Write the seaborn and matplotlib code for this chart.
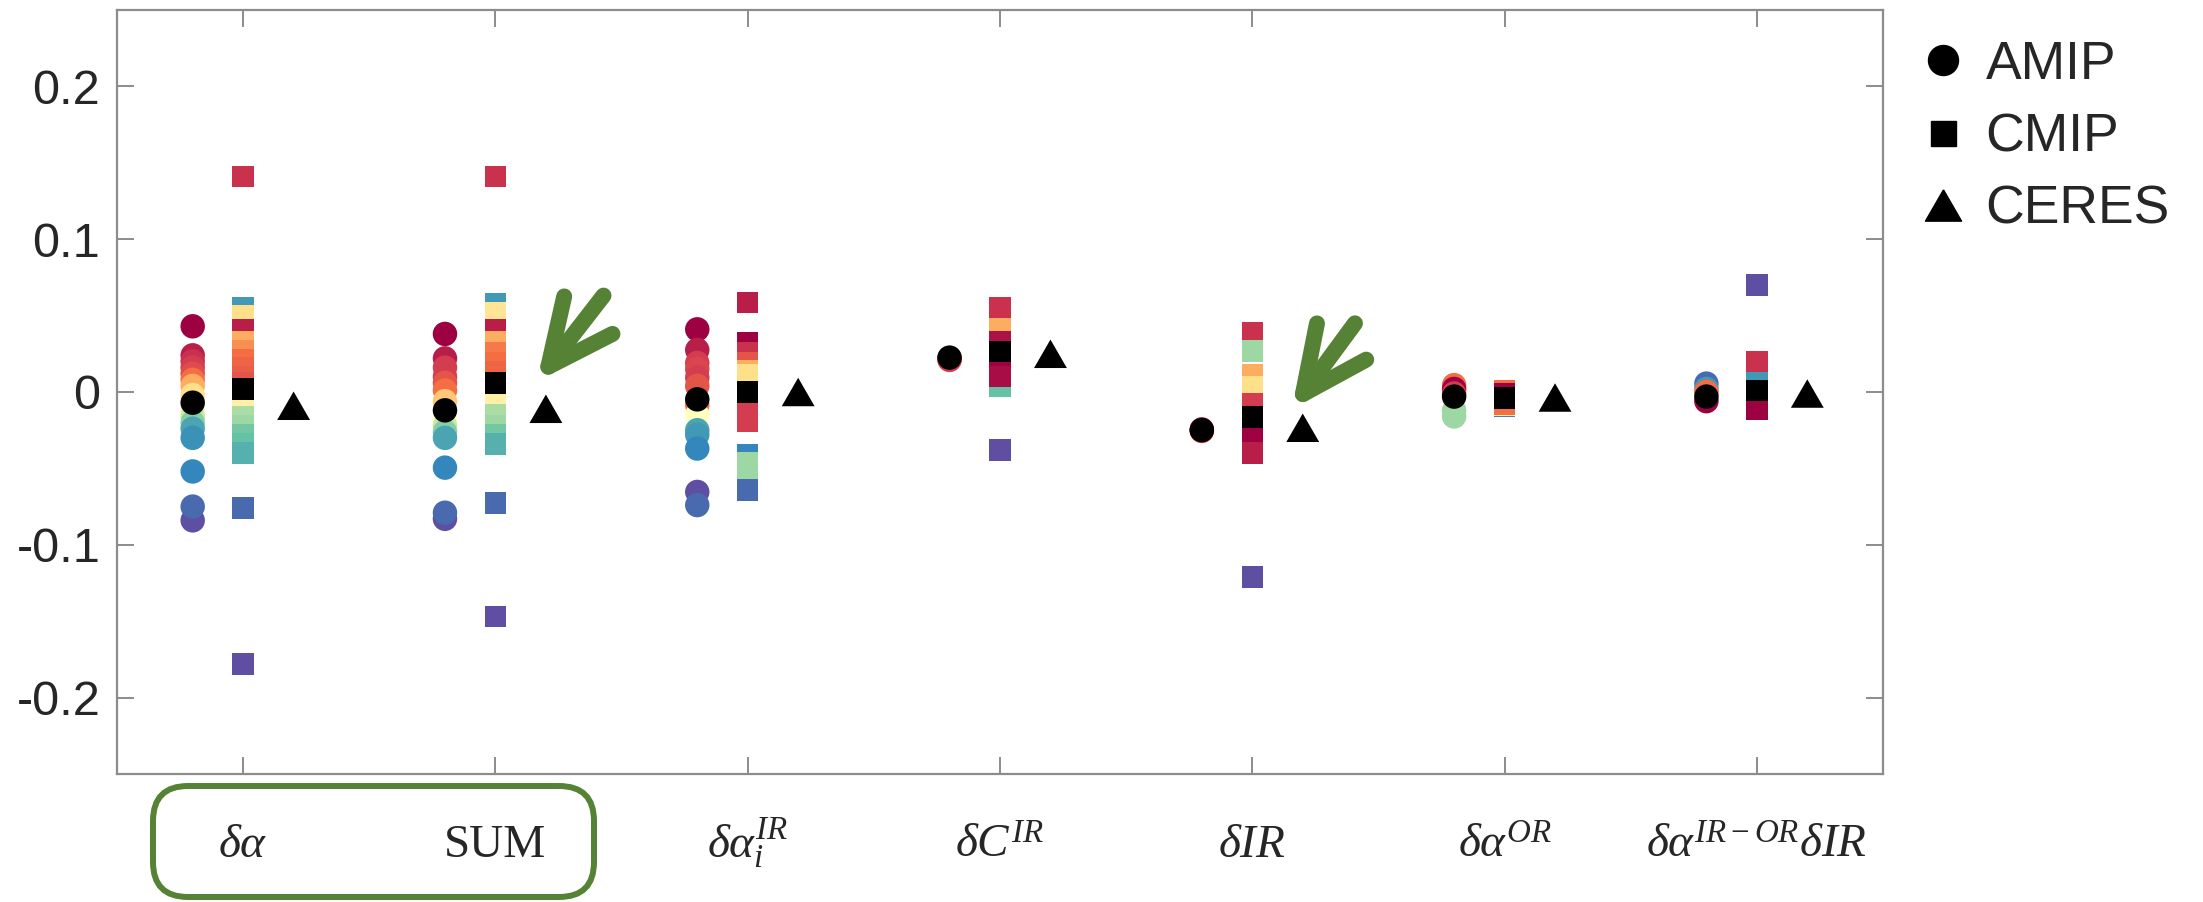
import numpy as np
import pandas as pd
import matplotlib
matplotlib.use("Agg")
import matplotlib.pyplot as plt
import seaborn as sns
from matplotlib.patches import FancyBboxPatch, FancyArrowPatch, ArrowStyle
from matplotlib.lines import Line2D
from matplotlib.markers import MarkerStyle

# ---------------- data ----------------
categories = [r"$\delta\alpha$", "SUM", r"$\delta\alpha_i^{IR}$", r"$\delta C^{IR}$",
              r"$\delta IR$", r"$\delta\alpha^{OR}$", r"$\delta\alpha^{IR-OR}\delta IR$"]

# AMIP model values per category and their position in the Spectral colour scale
amip_dalpha = [0.043, 0.024, 0.020, 0.016, 0.012, 0.008, 0.004, -0.002, -0.012, -0.016,
               -0.020, -0.024, -0.030, -0.052, -0.084, -0.075]
amip_dalpha_tone = [0.0, 0.05, 0.08, 0.1, 0.13, 0.2, 0.3, 0.4, 0.55, 0.65, 0.75, 0.85, 0.88, 0.9, 1.0, 0.95]
amip_sum = [0.038, 0.022, 0.016, 0.010, 0.006, 0.001, -0.006, -0.018, -0.022, -0.026, -0.030,
            -0.0495, -0.083, -0.079]
amip_sum_tone = [0.0, 0.05, 0.1, 0.1, 0.15, 0.2, 0.35, 0.5, 0.65, 0.75, 0.85, 0.9, 1.0, 0.95]
amip_dai = [0.041, 0.0275, 0.019, 0.015, 0.0095, 0.004, -0.0085, -0.015, -0.025, -0.028, -0.037,
            -0.0654, -0.074]
amip_dai_tone = [0.0, 0.05, 0.1, 0.12, 0.1, 0.15, 0.2, 0.5, 0.85, 0.87, 0.9, 1.0, 0.95]
amip_dc = [0.022, 0.0215, 0.021]
amip_dc_tone = [0.0, 0.2, 0.1]
amip_dir = [-0.025, -0.0255, -0.0245]
amip_dir_tone = [0.05, 0.15, 0.0]
amip_daor = [0.0045, 0.002, -0.001, -0.012, -0.016]
amip_daor_tone = [0.2, 0.0, 0.1, 0.72, 0.72]
amip_dcross = [0.0055, 0.002, 0.0, -0.006]
amip_dcross_tone = [0.95, 0.87, 0.2, 0.0]

# CMIP model values per category
cmip_dalpha = [0.141, 0.055, 0.050, 0.041, 0.033, 0.027, 0.021, 0.016, 0.010, 0.006, -0.005,
               -0.010, -0.016, -0.022, -0.028, -0.034, -0.040, -0.076, -0.178]
cmip_dalpha_tone = [0.08, 0.87, 0.4, 0.05, 0.3, 0.25, 0.2, 0.18, 0.17, 0.15, 0.1, 0.45, 0.7, 0.72,
                    0.78, 0.8, 0.83, 0.95, 1.0]
cmip_sum = [0.141, 0.058, 0.052, 0.041, 0.033, 0.026, 0.019, 0.013, -0.003, -0.008, -0.015,
            -0.022, -0.028, -0.034, -0.0725, -0.147]
cmip_sum_tone = [0.08, 0.87, 0.42, 0.05, 0.3, 0.22, 0.2, 0.18, 0.1, 0.45, 0.7, 0.72, 0.78, 0.83,
                 0.95, 1.0]
cmip_dai = [0.0586, 0.032, 0.026, 0.019, 0.014, 0.011, -0.006, -0.011, -0.016, -0.019, -0.041,
            -0.046, -0.052, -0.064]
cmip_dai_tone = [0.05, 0.0, 0.08, 0.15, 0.3, 0.4, 0.2, 0.1, 0.1, 0.1, 0.9, 0.72, 0.72, 0.95]
cmip_dc = [0.0554, 0.0416, 0.033, 0.022, 0.004, 0.017, 0.010, -0.038]
cmip_dc_tone = [0.08, 0.3, 0.03, 0.2, 0.8, 0.0, 0.02, 1.0]
cmip_dir = [0.039, 0.027, 0.011, 0.0033, -0.0075, -0.040, -0.027, -0.034, -0.040, -0.121]
cmip_dir_tone = [0.08, 0.72, 0.3, 0.4, 0.1, 0.9, 0.0, 0.0, 0.05, 1.0]
cmip_daor = [0.001, -0.001, -0.004, -0.009, -0.0085, -0.008]
cmip_daor_tone = [0.2, 0.0, 0.05, 0.9, 0.45, 0.2]
cmip_dcross = [0.070, 0.010, 0.020, -0.008, -0.0115]
cmip_dcross_tone = [1.0, 0.87, 0.08, 0.05, 0.0]

amip_mean = [-0.007, -0.012, -0.0048, 0.0225, -0.025, -0.003, -0.003]
cmip_mean = [0.002, 0.006, 0.0, 0.0264, -0.0162, -0.004, 0.001]
ceres = [-0.009, -0.011, 0.0, 0.025, -0.0234, -0.0036, -0.001]

ytick_values = [-0.2, -0.1, 0, 0.1, 0.2]
ytick_labels = ["-0.2", "-0.1", "0", "0.1", "0.2"]
legend_labels = ["AMIP", "CMIP", "CERES"]

amip_vals = [amip_dalpha, amip_sum, amip_dai, amip_dc, amip_dir, amip_daor, amip_dcross]
amip_tones = [amip_dalpha_tone, amip_sum_tone, amip_dai_tone, amip_dc_tone, amip_dir_tone,
              amip_daor_tone, amip_dcross_tone]
cmip_vals = [cmip_dalpha, cmip_sum, cmip_dai, cmip_dc, cmip_dir, cmip_daor, cmip_dcross]
cmip_tones = [cmip_dalpha_tone, cmip_sum_tone, cmip_dai_tone, cmip_dc_tone, cmip_dir_tone,
              cmip_daor_tone, cmip_dcross_tone]

# ---------------- style ----------------
sns.set_theme(style="white")
plt.rcParams["font.family"] = ["Liberation Sans", "DejaVu Sans"]
plt.rcParams["mathtext.fontset"] = "custom"
plt.rcParams["mathtext.rm"] = "Liberation Serif"
plt.rcParams["mathtext.it"] = "Liberation Serif:italic"
plt.rcParams["mathtext.bf"] = "Liberation Serif:bold"
plt.rcParams["axes.unicode_minus"] = False

GREEN = "#558234"
AX_GRAY = "#8c8c8c"
OFF_A, OFF_C = -0.2, 0.2

def long_frame(vals, tones, offset):
    rows = []
    for i, (v, t) in enumerate(zip(vals, tones)):
        for vv, tt in zip(v, t):
            rows.append({"x": i + 1 + offset, "value": vv, "tone": tt})
    return pd.DataFrame(rows)

df_amip = long_frame(amip_vals, amip_tones, OFF_A)
df_cmip = long_frame(cmip_vals, cmip_tones, 0.0)
pos = np.arange(1, len(categories) + 1)

tri = MarkerStyle(np.array([[0, 0.5], [-0.577, -0.5], [0.577, -0.5], [0, 0.5]]))

fig = plt.figure(figsize=(22.03, 9.02), dpi=100)
ax = fig.add_axes([117 / 2203, 1 - 774 / 902, 1766 / 2203, 764 / 902])

sns.scatterplot(data=df_amip, x="x", y="value", hue="tone", palette="Spectral",
                hue_norm=(0, 1), marker="o", s=310, linewidth=0, edgecolor="none",
                legend=False, ax=ax, zorder=2)
sns.scatterplot(data=df_cmip, x="x", y="value", hue="tone", palette="Spectral",
                hue_norm=(0, 1), marker="s", s=240, linewidth=0, edgecolor="none",
                legend=False, ax=ax, zorder=2)
sns.scatterplot(x=pos + OFF_A, y=amip_mean, color="black", marker="o", s=310,
                linewidth=0, edgecolor="none", ax=ax, zorder=3)
sns.scatterplot(x=pos, y=cmip_mean, color="black", marker="s", s=240,
                linewidth=0, edgecolor="none", ax=ax, zorder=3)
sns.scatterplot(x=pos + OFF_C, y=ceres, color="black", marker=tri, s=560,
                linewidth=0, edgecolor="none", ax=ax, zorder=3)

ax.set_xlim(0.5, 7.5)
ax.set_ylim(-0.25, 0.25)
ax.set_xlabel("")
ax.set_ylabel("")
ax.set_xticks(pos)
ax.set_xticklabels(categories, fontfamily="Liberation Serif", fontsize=34)
ax.set_yticks(ytick_values)
ax.set_yticklabels(ytick_labels, fontsize=35)
for sp in ax.spines.values():
    sp.set_visible(True)
    sp.set_color(AX_GRAY)
    sp.set_linewidth(1.6)
ax.tick_params(axis="both", direction="in", length=12, width=1.4, color=AX_GRAY,
               top=True, right=True, bottom=True, left=True, labelcolor="#262626")
ax.tick_params(axis="y", pad=12)
ax.tick_params(axis="x", pad=60)
for lab in ax.get_xticklabels():
    lab.set_verticalalignment("baseline")
ax.set_facecolor("white")
ax.grid(False)

# legend
handles = [Line2D([], [], ls="none", marker="o", color="black", markersize=21.6),
           Line2D([], [], ls="none", marker="s", color="black", markersize=18),
           Line2D([], [], ls="none", marker=tri, color="black", markersize=26)]
fig.legend(handles, legend_labels, loc="upper left",
           bbox_to_anchor=((1943 - 27) / 2203, 1 - 40 / 902), bbox_transform=fig.transFigure,
           frameon=False, prop={"family": "Liberation Sans", "size": 38.5},
           handlelength=1.0, handletextpad=0.3, labelspacing=0.42, borderpad=0,
           borderaxespad=0)

# green annotations
box = FancyBboxPatch((1.53, 0.05), 4.41, 1.11, boxstyle="round,pad=0,rounding_size=0.35",
                     transform=fig.dpi_scale_trans, fill=False, ec=GREEN, lw=4.3,
                     clip_on=False)
fig.add_artist(box)

arrow_style = ArrowStyle("->", head_length=47, head_width=22)
for tail, tip in [((0.2755, 0.6262), (0.2377, 0.5136)), ((0.7010, 0.5899), (0.6652, 0.4774))]:
    arr = FancyArrowPatch(posA=tail, posB=tip, transform=ax.transAxes, arrowstyle=arrow_style,
                          mutation_scale=1, lw=11.5, color=GREEN, capstyle="round",
                          joinstyle="round", shrinkA=0, shrinkB=0, clip_on=False, zorder=5)
    ax.add_patch(arr)

fig.savefig("out.png", dpi=100, facecolor="white")
